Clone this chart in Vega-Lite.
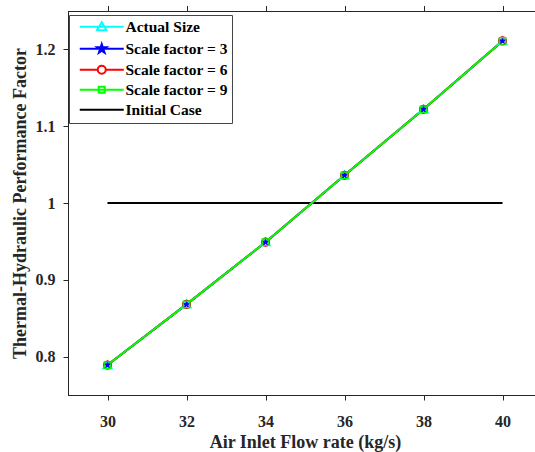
{
  "$schema": "https://vega.github.io/schema/vega-lite/v6.json",
  "width": 474,
  "height": 384,
  "autosize": {"type": "none"},
  "padding": {"left": 68, "top": 11, "right": 0, "bottom": 57},
  "background": "white",
  "config": {
    "font": "Liberation Serif",
    "view": {"stroke": "black", "strokeWidth": 1},
    "legend": {"labelFont": "Liberation Serif", "labelFontWeight": "bold"},
    "axis": {
      "labelFont": "Liberation Serif",
      "labelFontWeight": "bold",
      "labelFontSize": 16,
      "labelColor": "#262626",
      "titleFont": "Liberation Serif",
      "titleFontWeight": "bold",
      "titleFontSize": 18,
      "titleColor": "#262626",
      "domainColor": "#262626",
      "tickColor": "#262626",
      "tickSize": 5,
      "grid": false
    }
  },
  "data": {
    "values": [
      {"x": 30, "y": 1, "series": "Initial Case"},
      {"x": 40, "y": 1, "series": "Initial Case"},
      {"x": 30, "y": 0.789, "series": "Actual Size"},
      {"x": 32, "y": 0.868, "series": "Actual Size"},
      {"x": 34, "y": 0.949, "series": "Actual Size"},
      {"x": 36, "y": 1.036, "series": "Actual Size"},
      {"x": 38, "y": 1.122, "series": "Actual Size"},
      {"x": 40, "y": 1.211, "series": "Actual Size"},
      {"x": 30, "y": 0.789, "series": "Scale factor = 3"},
      {"x": 32, "y": 0.868, "series": "Scale factor = 3"},
      {"x": 34, "y": 0.949, "series": "Scale factor = 3"},
      {"x": 36, "y": 1.036, "series": "Scale factor = 3"},
      {"x": 38, "y": 1.122, "series": "Scale factor = 3"},
      {"x": 40, "y": 1.211, "series": "Scale factor = 3"},
      {"x": 30, "y": 0.789, "series": "Scale factor = 6"},
      {"x": 32, "y": 0.868, "series": "Scale factor = 6"},
      {"x": 34, "y": 0.949, "series": "Scale factor = 6"},
      {"x": 36, "y": 1.036, "series": "Scale factor = 6"},
      {"x": 38, "y": 1.122, "series": "Scale factor = 6"},
      {"x": 40, "y": 1.211, "series": "Scale factor = 6"},
      {"x": 30, "y": 0.789, "series": "Scale factor = 9"},
      {"x": 32, "y": 0.868, "series": "Scale factor = 9"},
      {"x": 34, "y": 0.949, "series": "Scale factor = 9"},
      {"x": 36, "y": 1.036, "series": "Scale factor = 9"},
      {"x": 38, "y": 1.122, "series": "Scale factor = 9"},
      {"x": 40, "y": 1.211, "series": "Scale factor = 9"}
    ]
  },
  "encoding": {
    "x": {
      "field": "x", "type": "quantitative",
      "scale": {"domain": [29, 41], "nice": false, "zero": false},
      "axis": {"values": [30, 32, 34, 36, 38, 40], "title": "Air Inlet Flow rate (kg/s)", "labelPadding": 13, "titlePadding": 4}
    },
    "y": {
      "field": "y", "type": "quantitative",
      "scale": {"domain": [0.75, 1.25], "nice": false, "zero": false},
      "axis": {"values": [0.8, 0.9, 1, 1.1, 1.2], "format": "~g", "title": "Thermal-Hydraulic Performance Factor", "labelPadding": 8, "titlePadding": 6}
    },
    "color": {
      "field": "series", "type": "nominal",
      "scale": {
        "domain": ["Actual Size", "Scale factor = 3", "Scale factor = 6", "Scale factor = 9", "Initial Case"],
        "range": ["#00ffff", "#0000ff", "#ff0000", "#00ff00", "#000000"]
      },
      "legend": {
        "title": null,
        "orient": "none",
        "legendX": 1,
        "legendY": 4,
        "direction": "vertical",
        "fillColor": "white",
        "strokeColor": "#444444",
        "padding": 4,
        "labelFont": "Liberation Serif",
        "labelFontWeight": "bold",
        "labelFontSize": 15.5,
        "labelColor": "black",
        "symbolSize": 64,
        "symbolOffset": 21,
        "labelOffset": 16,
        "rowPadding": 3,
        "encode": {
          "symbols": {
            "update": {
              "shape": {"signal": "datum.value == 'Actual Size' ? 'M-5.5,0L5.5,0M0,-1.15L1.2,0.9L-1.2,0.9Z' : datum.value == 'Scale factor = 3' ? 'M-5.5,0L5.5,0M0,-1.2L0.27,-0.372L1.141,-0.371L0.437,0.142L0.705,0.971L0,0.46L-0.705,0.971L-0.437,0.142L-1.141,-0.371L-0.27,-0.372Z' : datum.value == 'Scale factor = 6' ? 'M-5.5,0L-1,0M1,0L5.5,0M1,0A1,1,0,1,1,-1,0A1,1,0,1,1,1,0Z' : datum.value == 'Scale factor = 9' ? 'M-5.5,0L5.5,0M-0.75,-0.75L0.75,-0.75L0.75,0.75L-0.75,0.75Z' : 'M-5.5,0L5.5,0'"},
              "fill": {"signal": "datum.value == 'Scale factor = 3' ? '#0000ff' : 'transparent'"},
              "fillOpacity": {"signal": "datum.value == 'Scale factor = 3' ? 1 : 0"},
              "stroke": {"signal": "datum.value == 'Actual Size' ? '#00ffff' : datum.value == 'Scale factor = 3' ? '#0000ff' : datum.value == 'Scale factor = 6' ? '#ff0000' : datum.value == 'Scale factor = 9' ? '#00ff00' : '#000000'"},
              "strokeOpacity": {"value": 1},
              "strokeWidth": {"signal": "datum.value == 'Initial Case' ? 3.5 : 1.5"},
              "opacity": {"value": 1},
              "size": {"value": 64}
            }
          }
        }
      }
    }
  },
  "layer": [
    {
      "mark": {"type": "line", "clip": true},
      "encoding": {
        "strokeWidth": {
          "field": "series", "type": "nominal",
          "scale": {
            "domain": ["Actual Size", "Scale factor = 3", "Scale factor = 6", "Scale factor = 9", "Initial Case"],
            "range": [2, 2, 2, 2, 3.2]
          },
          "legend": null
        }
      }
    },
    {
      "transform": [{"filter": "datum.series == 'Actual Size'"}],
      "mark": {"type": "point", "shape": "M0,-1.15L1.2,0.9L-1.2,0.9Z", "size": 64, "filled": false, "opacity": 1, "strokeWidth": 1.2}
    },
    {
      "transform": [{"filter": "datum.series == 'Scale factor = 3'"}],
      "mark": {"type": "point", "shape": "M0,-1.2L0.27,-0.372L1.141,-0.371L0.437,0.142L0.705,0.971L0,0.46L-0.705,0.971L-0.437,0.142L-1.141,-0.371L-0.27,-0.372Z", "size": 64, "filled": true, "opacity": 1, "strokeWidth": 1}
    },
    {
      "transform": [{"filter": "datum.series == 'Scale factor = 6'"}],
      "mark": {"type": "point", "shape": "circle", "size": 64, "filled": false, "opacity": 1, "strokeWidth": 1.2}
    },
    {
      "transform": [{"filter": "datum.series == 'Scale factor = 9'"}],
      "mark": {"type": "point", "shape": "square", "size": 44, "filled": false, "opacity": 1, "strokeWidth": 1.2}
    },
    {
      "mark": {"type": "rule", "opacity": 0},
      "encoding": {
        "x": {"datum": 29, "type": "quantitative", "scale": {"domain": [29, 41], "nice": false, "zero": false}, "axis": {"orient": "top", "values": [30, 32, 34, 36, 38, 40], "labels": false, "ticks": true, "tickSize": 5, "title": null, "domain": false}},
        "y": {"datum": 0.75, "type": "quantitative", "scale": {"domain": [0.75, 1.25], "nice": false, "zero": false}, "axis": {"orient": "right", "values": [0.8, 0.9, 1, 1.1, 1.2], "labels": false, "ticks": true, "tickSize": 5, "title": null, "domain": false}}
      }
    }
  ],
  "resolve": {"axis": {"x": "independent", "y": "independent"}}
}
